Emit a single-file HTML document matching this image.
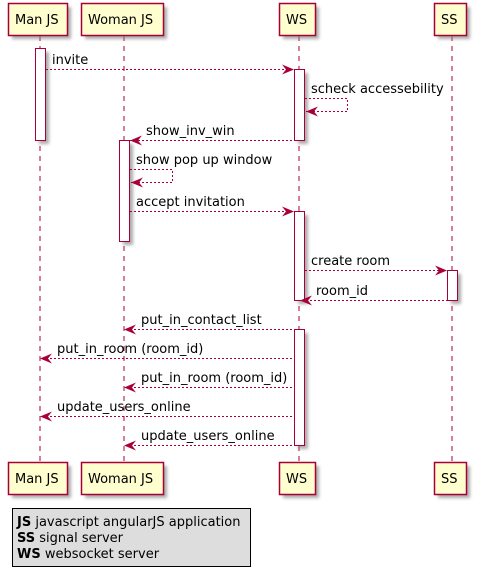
<!DOCTYPE html>
<html><head><meta charset="utf-8"><style>
html,body{margin:0;padding:0;background:#fff;}
svg{display:block;}
text{font-family:"DejaVu Sans","Liberation Sans",sans-serif;font-size:13px;fill:#000;}
</style></head><body>
<svg width="477" height="577" viewBox="0 0 477 577" xmlns="http://www.w3.org/2000/svg">
<defs>
<filter id="sh" x="-20%" y="-20%" width="150%" height="150%">
<feGaussianBlur stdDeviation="1.5"/>
</filter>
</defs>
<g stroke="#A80036" stroke-width="1" stroke-dasharray="5,5">
<line x1="40" y1="36" x2="40" y2="462"/>
<line x1="124" y1="36" x2="124" y2="462"/>
<line x1="299" y1="36" x2="299" y2="462"/>
<line x1="452" y1="36" x2="452" y2="462"/>
</g>
<g fill="#888" opacity="0.7" filter="url(#sh)">
<rect x="12" y="7" width="59" height="32"/>
<rect x="85" y="7" width="82" height="32"/>
<rect x="283" y="7" width="36" height="32"/>
<rect x="438" y="7" width="32" height="32"/>
<rect x="12" y="466" width="59" height="32"/>
<rect x="85" y="466" width="82" height="32"/>
<rect x="283" y="466" width="36" height="32"/>
<rect x="438" y="466" width="32" height="32"/>
</g>
<g fill="#FEFECE" stroke="#A80036" stroke-width="1.5">
<rect x="8.5" y="3.5" width="59" height="32"/>
<rect x="81.5" y="3.5" width="82" height="32"/>
<rect x="279.5" y="3.5" width="36" height="32"/>
<rect x="434.5" y="3.5" width="32" height="32"/>
<rect x="8.5" y="462.5" width="59" height="32"/>
<rect x="81.5" y="462.5" width="82" height="32"/>
<rect x="279.5" y="462.5" width="36" height="32"/>
<rect x="434.5" y="462.5" width="32" height="32"/>
</g>
<g style="font-size:14px">
<text x="15" y="24">Man JS</text>
<text x="88" y="24">Woman JS</text>
<text x="286" y="24">WS</text>
<text x="441" y="24">SS</text>
<text x="15" y="483">Man JS</text>
<text x="88" y="483">Woman JS</text>
<text x="286" y="483">WS</text>
<text x="441" y="483">SS</text>
</g>
<g fill="#888" opacity="0.7" filter="url(#sh)">
<rect x="39" y="52" width="10" height="92"/>
<rect x="298" y="73" width="10" height="71"/>
<rect x="123" y="144" width="10" height="101"/>
<rect x="298" y="215" width="10" height="89"/>
<rect x="451" y="274" width="10" height="30"/>
<rect x="298" y="333" width="10" height="116"/>
</g>
<g fill="#fff" stroke="#A80036" stroke-width="1">
<rect x="35.5" y="48.5" width="10" height="92"/>
<rect x="294.5" y="69.5" width="10" height="71"/>
<rect x="119.5" y="140.5" width="10" height="101"/>
<rect x="294.5" y="211.5" width="10" height="89"/>
<rect x="447.5" y="270.5" width="10" height="30"/>
<rect x="294.5" y="329.5" width="10" height="116"/>
</g>
<g stroke="#A80036" stroke-width="1" stroke-dasharray="2,2" fill="none">
<line x1="46" y1="69.5" x2="292" y2="69.5"/>
<polyline points="305,98.5 347.5,98.5 347.5,111.5 306,111.5"/>
<line x1="130" y1="140.5" x2="294" y2="140.5"/>
<polyline points="130,169.5 172.5,169.5 172.5,182.5 131,182.5"/>
<line x1="130" y1="211.5" x2="292" y2="211.5"/>
<line x1="305" y1="270.5" x2="445" y2="270.5"/>
<line x1="302" y1="300.5" x2="447" y2="300.5"/>
<line x1="126" y1="329.5" x2="294" y2="329.5"/>
<line x1="42" y1="358.5" x2="294" y2="358.5"/>
<line x1="126" y1="387.5" x2="294" y2="387.5"/>
<line x1="42" y1="416.5" x2="294" y2="416.5"/>
<line x1="126" y1="445.5" x2="294" y2="445.5"/>
</g>
<g fill="#A80036">
<polygon points="294,69.5 282,64.5 286,69.5 282,74.5"/>
<polygon points="306,111.5 318,106.5 314,111.5 318,116.5"/>
<polygon points="130,140.5 142,135.5 138,140.5 142,145.5"/>
<polygon points="131,182.5 143,177.5 139,182.5 143,187.5"/>
<polygon points="294,211.5 282,206.5 286,211.5 282,216.5"/>
<polygon points="447,270.5 435,265.5 439,270.5 435,275.5"/>
<polygon points="300,300.5 312,295.5 308,300.5 312,305.5"/>
<polygon points="124,329.5 136,324.5 132,329.5 136,334.5"/>
<polygon points="40,358.5 52,353.5 48,358.5 52,363.5"/>
<polygon points="124,387.5 136,382.5 132,387.5 136,392.5"/>
<polygon points="40,416.5 52,411.5 48,416.5 52,421.5"/>
<polygon points="124,445.5 136,440.5 132,445.5 136,450.5"/>
</g>
<g>
<text x="52" y="64">invite</text>
<text x="311" y="93">scheck accessebility</text>
<text x="146" y="135">show_inv_win</text>
<text x="136" y="164">show pop up window</text>
<text x="136" y="206">accept invitation</text>
<text x="311" y="265">create room</text>
<text x="316" y="295">room_id</text>
<text x="141" y="324">put_in_contact_list</text>
<text x="57" y="353">put_in_room (room_id)</text>
<text x="141" y="382">put_in_room (room_id)</text>
<text x="57" y="411">update_users_online</text>
<text x="141" y="440">update_users_online</text>
</g>
<rect x="12.5" y="508.5" width="238" height="58" fill="#DDDDDD" stroke="#000" stroke-width="1"/>
<g style="font-size:14px">
<text x="17" y="526"><tspan font-weight="bold">JS</tspan> javascript angularJS application</text>
<text x="17" y="542"><tspan font-weight="bold">SS</tspan> signal server</text>
<text x="17" y="558"><tspan font-weight="bold">WS</tspan> websocket server</text>
</g>
</svg>
</body></html>
